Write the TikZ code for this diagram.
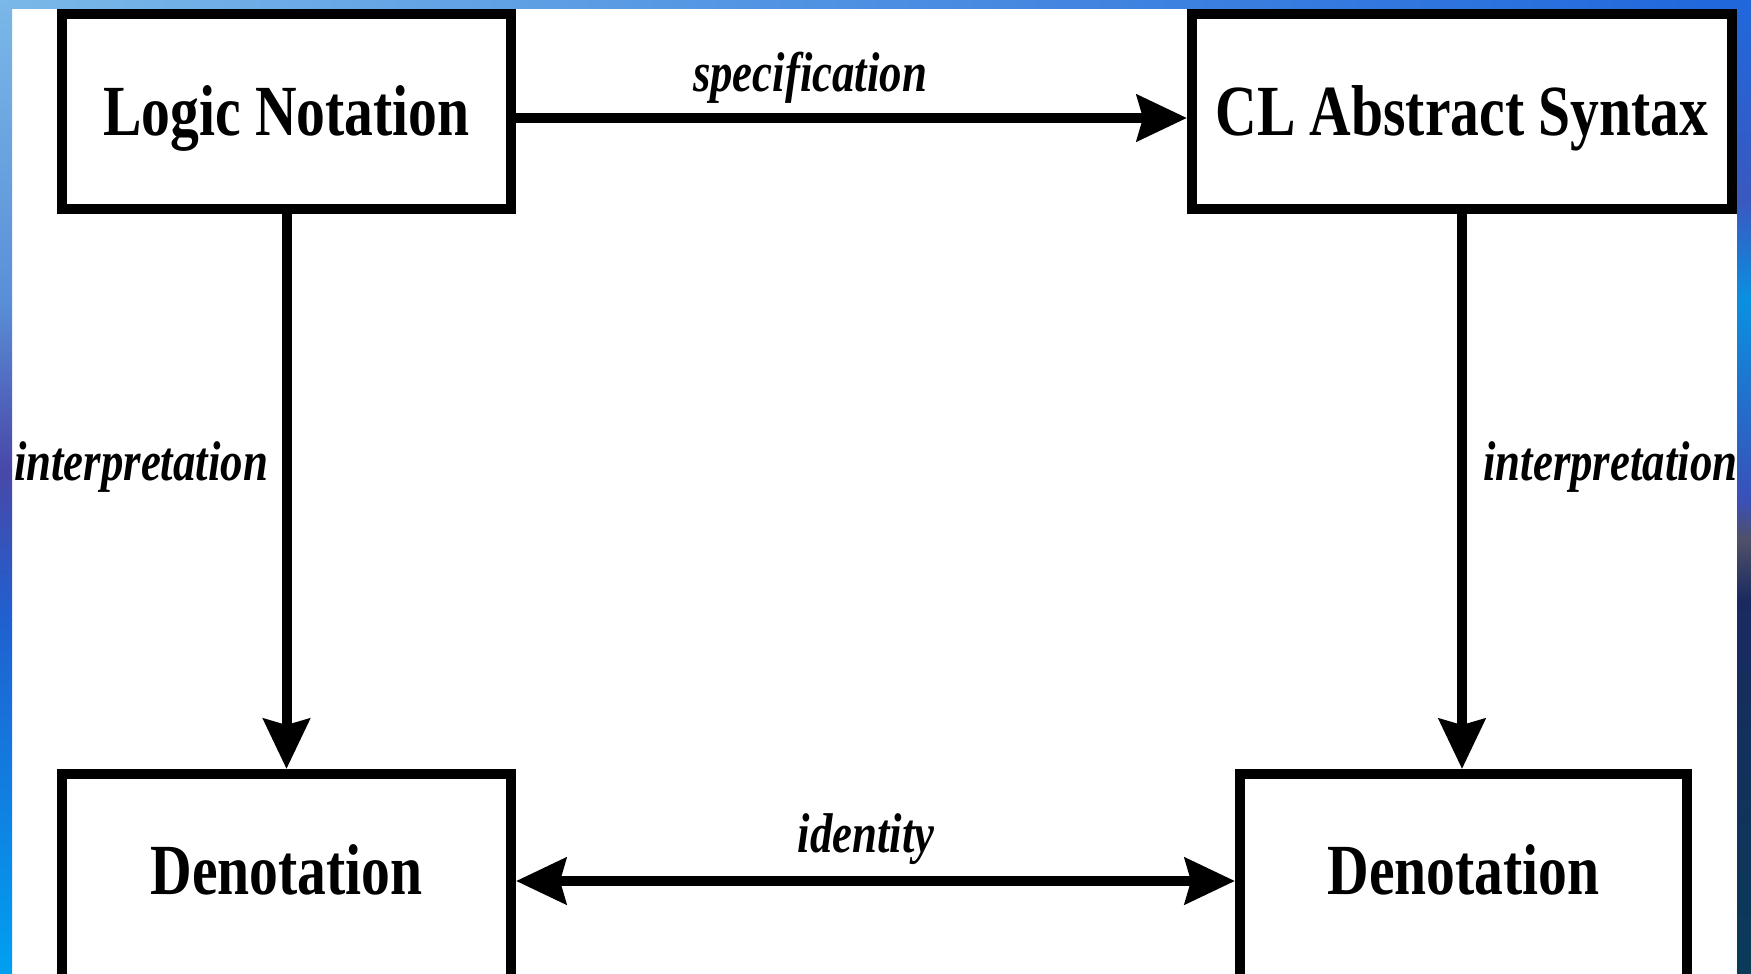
\documentclass[tikz,border=0pt]{standalone}
\usepackage{fontspec}
\newfontfamily\cfont[FakeStretch=0.8]{Liberation Serif}
\usetikzlibrary{arrows.meta}
\definecolor{lA}{HTML}{7AB8E8}
\definecolor{lB}{HTML}{5A8FD8}
\definecolor{lC}{HTML}{4848A8}
\definecolor{lD}{HTML}{2060D0}
\definecolor{lE}{HTML}{00A0F0}
\definecolor{tR}{HTML}{1F66DC}
\definecolor{tM}{HTML}{6AA8E6}
\definecolor{rA}{HTML}{1F68DC}
\definecolor{rB}{HTML}{3A58C0}
\definecolor{rC}{HTML}{0A90E0}
\definecolor{rD}{HTML}{3A50B8}
\definecolor{rE}{HTML}{505068}
\definecolor{rF}{HTML}{1A2A60}
\definecolor{rG}{HTML}{0A3A58}
\begin{document}
\begin{tikzpicture}[x=0.5pt,y=-0.5pt,
  boxnode/.style={draw=black, line width=5pt, fill=white, inner sep=0pt},
  boxtext/.style={font=\cfont\bfseries\fontsize{36}{40}\selectfont, inner sep=0pt},
  lbl/.style={font=\cfont\bfseries\itshape\fontsize{28}{32}\selectfont, inner sep=0pt, anchor=base},
  conn/.style={line width=5pt, -{Stealth[length=25pt,width=23pt,inset=3pt]}},
]
\clip (0,0) rectangle (1751,974);
% background frame
\fill[white] (0,0) rectangle (1751,974);
\shade[left color=lA, middle color=tM, right color=tR] (0,0) rectangle (1751,9);
\shade[top color=lA, bottom color=lB] (0,0) rectangle (12,300);
\shade[top color=lB, bottom color=lC] (0,300) rectangle (12,470);
\shade[top color=lC, bottom color=lD] (0,470) rectangle (12,620);
\shade[top color=lD, bottom color=lE] (0,620) rectangle (12,974);

% boxes
\node[boxnode, boxtext, minimum width=224.5pt, minimum height=97.5pt, text height=23.6pt, text depth=0pt] (logic) at (286.5,111.5) {Logic Notation};
\node[boxnode, boxtext, minimum width=270pt, minimum height=97.5pt, text height=23.6pt, text depth=0pt] (cl) at (1462,111.5) {CL Abstract Syntax};
\node[boxnode, minimum width=224.5pt, minimum height=113pt] (den1) at (286.5,887) {};
\node[boxnode, minimum width=223.5pt, minimum height=113pt] (den2) at (1463.5,887) {};
\node[boxtext, anchor=base] (den1t) at ([yshift=-62.5pt]den1.north) {Denotation};
\node[boxtext, anchor=base] (den2t) at ([yshift=-62.5pt]den2.north) {Denotation};

% connectors
\draw[conn] ([yshift=-3.25pt]logic.east) -- ([yshift=-3.25pt]cl.west);
\draw[conn] (logic.south) -- (den1.north);
\draw[conn] (cl.south) -- (cl.south |- den2.north);
\draw[line width=5pt, {Stealth[length=25pt,width=23pt,inset=3pt]}-{Stealth[length=25pt,width=23pt,inset=3pt]}] ([yshift=3pt]den1.east) -- ([yshift=3pt]den2.west);

% labels
\node[lbl] (spec) at (810,92) {specification};
\node[lbl] (ident) at (866,852) {identity};
\node[lbl] (intl) at (141,480) {interpretation};
\node[lbl, anchor=base west] (intr) at (1483,480) {interpretation};

% right strip
\shade[top color=rA, bottom color=rB] (1737,0) rectangle (1751,200);
\shade[top color=rB, bottom color=rC] (1737,200) rectangle (1751,300);
\shade[top color=rC, bottom color=rD] (1737,300) rectangle (1751,500);
\shade[top color=rD, bottom color=rE] (1737,500) rectangle (1751,540);
\shade[top color=rE, bottom color=rF] (1737,540) rectangle (1751,600);
\shade[top color=rF, bottom color=rG] (1737,600) rectangle (1751,974);
\end{tikzpicture}
\end{document}
